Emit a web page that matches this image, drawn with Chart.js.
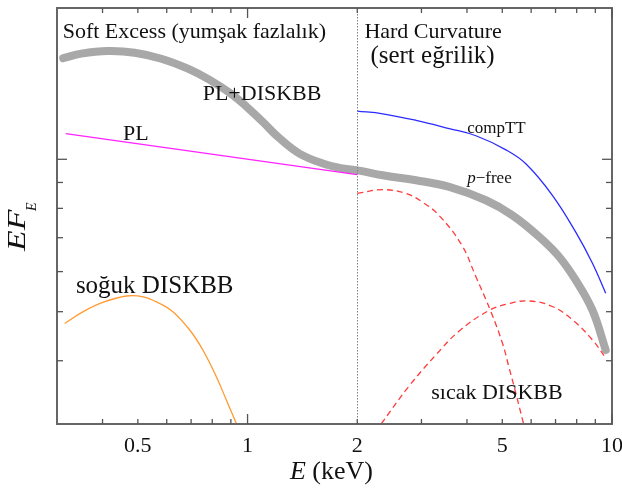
<!DOCTYPE html>
<html><head><meta charset="utf-8">
<script src="https://cdn.jsdelivr.net/npm/chart.js@4.4.0/dist/chart.umd.min.js"></script>
<style>html,body{margin:0;padding:0;background:#fff;} #c{display:block;}</style>
</head><body>
<canvas id="c" width="622" height="493"></canvas>
<script>
const SERIF = "'Liberation Serif', 'Times New Roman', serif";

// ---- axes ----
const xRange = [0.3, 10];
const yRange = [0.3, 1.99];
const xTickValues = [0.5, 1, 2, 5, 10];
const xTickLabels = ['0.5', '1', '2', '5', '10'];
const xMinorTicks = [0.4, 0.5, 0.6, 0.7, 0.8, 0.9, 2, 3, 4, 5, 6, 7, 8, 9];
const xMajorTicks = [1, 10];
const yMinorTicks = [0.4, 0.5, 0.6, 0.7, 0.8, 0.9];
const yMajorTicks = [1];
const boundaryE = 2;

// ---- series (E in keV, EF_E arbitrary units) ----
const plE    = [0.317, 2.0];
const plFlux = [1.124, 0.933];

const totalE    = [0.312, 0.350, 0.414, 0.490, 0.580, 0.686, 0.787, 0.893, 0.992, 1.101, 1.224, 1.388, 1.609, 1.824, 2.006, 2.349, 2.899, 3.576, 4.508, 5.333, 6.310, 7.160, 7.953, 8.831, 9.610];
const totalFlux = [1.584, 1.617, 1.636, 1.624, 1.580, 1.510, 1.435, 1.353, 1.272, 1.185, 1.100, 1.026, 0.981, 0.959, 0.951, 0.930, 0.909, 0.882, 0.830, 0.775, 0.703, 0.642, 0.577, 0.504, 0.420];

const compttE    = [2.0, 2.349, 2.899, 3.576, 4.233, 5.115, 5.802, 6.862, 7.953, 8.831, 9.610];
const compttFlux = [1.245, 1.230, 1.194, 1.150, 1.113, 1.044, 0.980, 0.849, 0.718, 0.624, 0.544];

const hot1E    = [2.0, 2.349, 2.721, 3.021, 3.357, 3.870, 4.233, 4.653, 5.006, 5.222, 5.447, 5.720];
const hot1Flux = [0.856, 0.871, 0.856, 0.823, 0.774, 0.677, 0.586, 0.500, 0.433, 0.387, 0.345, 0.300];

const hot2E    = [2.325, 2.779, 3.289, 3.809, 4.603, 5.222, 5.925, 6.862, 7.785, 8.831, 9.610];
const hot2Flux = [0.300, 0.357, 0.411, 0.458, 0.503, 0.519, 0.525, 0.512, 0.482, 0.440, 0.405];

const coldE    = [0.315, 0.354, 0.402, 0.465, 0.517, 0.574, 0.624, 0.694, 0.754, 0.821, 0.874, 0.931];
const coldFlux = [0.474, 0.500, 0.522, 0.537, 0.535, 0.519, 0.500, 0.460, 0.420, 0.372, 0.335, 0.301];

// ---- annotations (text, anchored in data coordinates) ----
const notes = [
  {parts: [['Soft Excess (yumşak fazlalık)', '']], x: 0.311, y: 1.740, size: 22},
  {parts: [['Hard Curvature', '']], x: 2.092, y: 1.740, size: 22},
  {parts: [['(sert eğrilik)', '']], x: 2.173, y: 1.547, size: 25},
  {parts: [['PL+DISKBB', '']], x: 0.753, y: 1.307, size: 22},
  {parts: [['PL', '']], x: 0.455, y: 1.090, size: 22},
  {parts: [['compTT', '']], x: 4.006, y: 1.125, size: 17},
  {parts: [['p', 'italic '], ['\u2212free', '']], x: 4.006, y: 0.897, size: 17},
  {parts: [['soğuk DISKBB', '']], x: 0.338, y: 0.544, size: 25},
  {parts: [['sıcak DISKBB', '']], x: 3.192, y: 0.336, size: 22}
];

const pts = (xs, ys) => xs.map((v, i) => ({x: v, y: ys[i]}));

const decor = {
  id: 'decor',
  afterDatasetsDraw(chart) {
    const {ctx, chartArea: a, scales: {x, y}} = chart;
    ctx.save();
    // boundary dotted line
    const bx = Math.round(x.getPixelForValue(boundaryE)) + 0.5;
    ctx.strokeStyle = '#808080'; ctx.lineWidth = 1; ctx.setLineDash([1.5, 1.5]);
    ctx.beginPath(); ctx.moveTo(bx, a.top); ctx.lineTo(bx, a.bottom); ctx.stroke();
    ctx.setLineDash([]);
    // frame
    ctx.strokeStyle = '#666'; ctx.lineWidth = 2;
    ctx.strokeRect(a.left, a.top, a.right - a.left, a.bottom - a.top);
    // inward ticks
    ctx.lineWidth = 1.3; ctx.strokeStyle = '#555';
    const tick = (x1, y1, x2, y2) => { ctx.beginPath(); ctx.moveTo(x1, y1); ctx.lineTo(x2, y2); ctx.stroke(); };
    const drawX = (vals, len) => vals.forEach(v => {
      const px = x.getPixelForValue(v);
      tick(px, a.bottom, px, a.bottom - len);
      tick(px, a.top, px, a.top + len);
    });
    const drawY = (vals, len) => vals.forEach(v => {
      const py = y.getPixelForValue(v);
      tick(a.left, py, a.left + len, py);
      tick(a.right, py, a.right - len, py);
    });
    drawX(xMinorTicks, 5); drawX(xMajorTicks, 10);
    drawY(yMinorTicks, 6); drawY(yMajorTicks, 10);
    ctx.restore();
  },
  afterDraw(chart) {
    const {ctx, chartArea: a, scales: {x, y}} = chart;
    ctx.save();
    ctx.fillStyle = '#111';
    // x tick labels
    ctx.font = '22px ' + SERIF;
    ctx.textAlign = 'center';
    ctx.textBaseline = 'middle';
    xTickValues.forEach((v, i) => ctx.fillText(xTickLabels[i], x.getPixelForValue(v), a.bottom + 22));
    ctx.textBaseline = 'alphabetic';
    ctx.textAlign = 'left';
    notes.forEach(n => {
      let px = x.getPixelForValue(n.x);
      const py = y.getPixelForValue(n.y);
      n.parts.forEach(([t, st]) => {
        ctx.font = st + n.size + 'px ' + SERIF;
        ctx.fillText(t, px, py);
        px += ctx.measureText(t).width;
      });
    });
    // x title: E (keV)
    const cx = (a.left + a.right) / 2 - 3;
    ctx.font = 'italic 26px ' + SERIF;
    const w1 = ctx.measureText('E').width;
    ctx.font = '26px ' + SERIF;
    const w2 = ctx.measureText(' (keV)').width;
    let sx = cx - (w1 + w2) / 2;
    ctx.font = 'italic 26px ' + SERIF; ctx.fillText('E', sx, 479);
    ctx.font = '26px ' + SERIF; ctx.fillText(' (keV)', sx + w1, 479);
    // y title: EF_E rotated
    ctx.translate(25, 251);
    ctx.rotate(-Math.PI / 2);
    ctx.save();
    ctx.scale(1.3, 1);
    ctx.font = 'italic 26px ' + SERIF;
    ctx.fillText('EF', 0, 0);
    ctx.restore();
    ctx.font = 'italic 14px ' + SERIF;
    ctx.fillText('E', 40, 11);
    ctx.restore();
  }
};

const lineDs = (label, xs, ys, color, width, extra) => Object.assign({
  label, data: pts(xs, ys), borderColor: color, borderWidth: width,
  pointRadius: 0, fill: false, tension: 0.4, order: 1
}, extra || {});

new Chart(document.getElementById('c'), {
  type: 'line',
  data: {
    datasets: [
      lineDs('PL+DISKBB / p-free', totalE, totalFlux, '#a8a8a8', 8, {order: 5, borderCapStyle: 'round', borderJoinStyle: 'round'}),
      lineDs('PL', plE, plFlux, '#ff22ff', 1.3, {tension: 0}),
      lineDs('compTT', compttE, compttFlux, '#2b2bff', 1.3),
      lineDs('sıcak DISKBB 1', hot1E, hot1Flux, '#ff3b3b', 1.3, {borderDash: [6, 4]}),
      lineDs('sıcak DISKBB 2', hot2E, hot2Flux, '#ff3b3b', 1.3, {borderDash: [6, 4]}),
      lineDs('soğuk DISKBB', coldE, coldFlux, '#ff9a30', 1.3)
    ]
  },
  options: {
    responsive: false,
    animation: false,
    devicePixelRatio: 1,
    layout: {padding: {left: 57, right: 10, top: 8, bottom: 69}},
    plugins: {legend: {display: false}, tooltip: {enabled: false}},
    scales: {
      x: {type: 'logarithmic', min: xRange[0], max: xRange[1], display: false},
      y: {type: 'logarithmic', min: yRange[0], max: yRange[1], display: false}
    }
  },
  plugins: [decor]
});
</script>
</body></html>
